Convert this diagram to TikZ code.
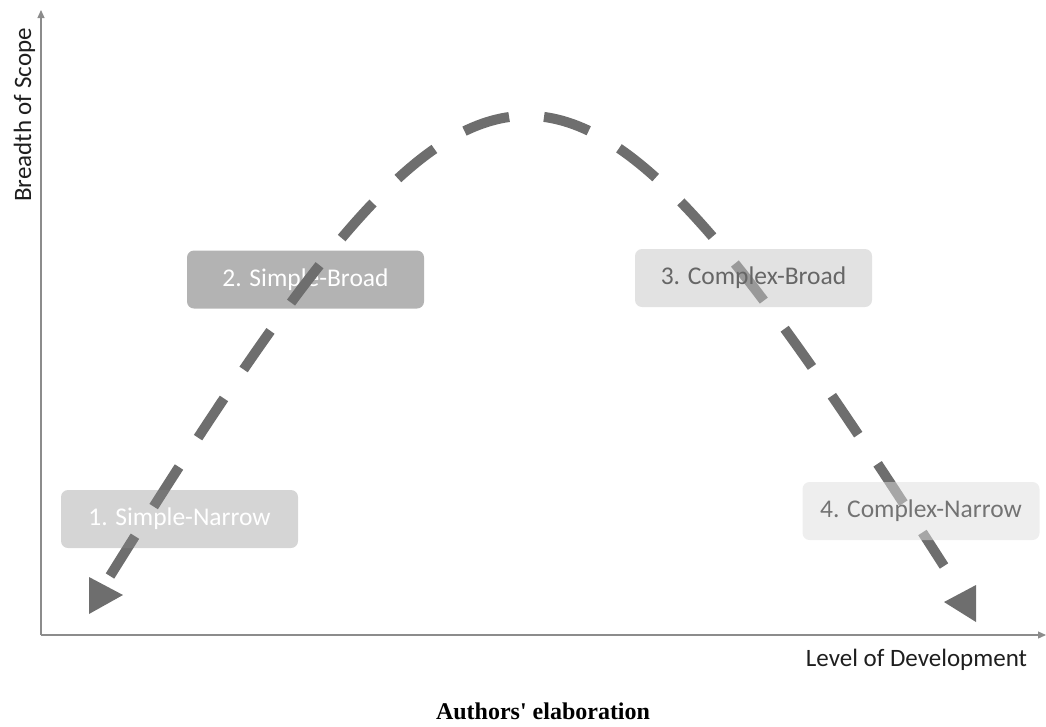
\documentclass[tikz,border=0pt]{standalone}
\usepackage{fontspec}
\setmainfont{Carlito}
\newfontfamily\capfont{Liberation Serif}[Ligatures=TeXOff]
\usetikzlibrary{arrows.meta}
\definecolor{dashgray}{HTML}{6E6E6E}
\definecolor{axisgray}{HTML}{8C8C8C}
\definecolor{fillA}{HTML}{888888}
\definecolor{fillB}{HTML}{B3B3B3}
\definecolor{fillC}{HTML}{C5C5C5}
\definecolor{fillD}{HTML}{DEDEDE}
\definecolor{txtC}{HTML}{666666}
\definecolor{txtD}{HTML}{737373}
\definecolor{labtxt}{HTML}{1E1E1E}
\begin{document}
\begin{tikzpicture}[x=1pt,y=-1pt,
  axis/.style={draw=axisgray, line width=1.1pt, -{Triangle[length=8pt,width=7pt]}},
  box/.style={rounded corners=7pt, minimum width=237pt, minimum height=58pt, inner sep=0pt,
    text opacity=1, font=\fontsize{25.5}{30}\selectfont},
  curve/.style={draw=dashgray, line width=10pt, dash pattern=on 47pt off 35pt},
  tri/.style={fill=dashgray},
  lab/.style={text=labtxt, inner sep=0pt, font=\fontsize{25}{30}\selectfont}
]
\useasboundingbox (0,0) rectangle (1046,726);
% axes
\coordinate (O) at (41,635);
\coordinate (Ytop) at (41,10);
\coordinate (Xend) at (1046,635);
\draw[axis] (O) -- (Ytop);
\draw[axis] (O) -- (Xend);
\node[lab, rotate=90, anchor=base] (ylab) at (31,115) {Breadth of Scope};
\node[lab, anchor=base] (xlab) at (916.5,666) {Level of Development};
% box under the curve
\node[box, fill=fillB, text=white] (b2) at (305.5,279.5) {2. Simple-Broad};
% curve
\coordinate (cs) at (110,576);
\coordinate (ce) at (944,566);
\draw[curve] (cs) .. controls (492,-36) and (558,-36) .. (ce);
\fill[tri] (89,577) -- (89,614) -- (123,595) -- cycle;
\fill[tri] (976,585) -- (976,622) -- (944,602) -- cycle;
% boxes over the curve
\node[box, fill=fillA, fill opacity=0.35, text=white] (b1) at (179.5,519) {1. Simple-Narrow};
\node[box, fill=fillC, fill opacity=0.5, text=txtC] (b3) at (753.5,278) {3. Complex-Broad};
\node[box, fill=fillD, fill opacity=0.5, text=txtD] (b4) at (921,511) {4. Complex-Narrow};
% caption
\node[anchor=base, inner sep=0pt, font=\capfont\bfseries\fontsize{24}{28}\selectfont] (cap) at (543,719) {Authors' elaboration};
\end{tikzpicture}
\end{document}
